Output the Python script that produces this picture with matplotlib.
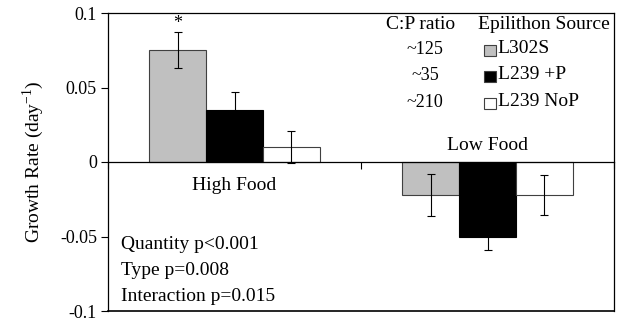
import matplotlib
matplotlib.use("Agg")
import matplotlib.pyplot as plt
from matplotlib.patches import Rectangle
import numpy as np

# data
food = ["High Food", "Low Food"]
sources = ["L302S", "L239 +P", "L239 NoP"]
cp_ratio = ["~125", "~35", "~210"]
rates = {
    "L302S":    [0.075, -0.022],
    "L239 +P":  [0.035, -0.050],
    "L239 NoP": [0.010, -0.022],
}
errs = {
    "L302S":    [0.012, 0.014],
    "L239 +P":  [0.012, 0.009],
    "L239 NoP": [0.011, 0.0135],
}
stats = ["Quantity p<0.001", "Type p=0.008", "Interaction p=0.015"]

colors = ["#c0c0c0", "#000000", "#ffffff"]
edges = ["#404040", "#000000", "#404040"]

plt.rcParams["font.family"] = ["Liberation Serif", "DejaVu Serif"]
plt.rcParams["mathtext.fontset"] = "custom"
plt.rcParams["mathtext.rm"] = "Liberation Serif"
FS = 14

fig = plt.figure(figsize=(6.21, 3.2), dpi=100)
ax = fig.add_axes([108 / 621, 9 / 320, 506 / 621, 298 / 320])

x = np.arange(len(food))
w = 0.225
for i, s in enumerate(sources):
    xs = x + (i - 1) * w
    ax.bar(xs, rates[s], width=w, color=colors[i], edgecolor=edges[i],
           linewidth=0.8, zorder=2)
    ax.errorbar(xs, rates[s], yerr=errs[s], fmt="none", ecolor="black",
                elinewidth=0.8, capsize=3, capthick=0.8, zorder=3)

# significance star over L302S high food
ax.text(x[0] - w, rates["L302S"][0] + errs["L302S"][0], "*",
        ha="center", va="bottom", fontsize=FS - 1)

ax.set_xlim(-0.5, 1.5)
ax.set_ylim(-0.1, 0.1)
ax.set_yticks([-0.1, -0.05, 0, 0.05, 0.1])
ax.set_yticklabels(["-0.1", "-0.05", "0", "0.05", "0.1"], fontsize=FS - 1)
ax.tick_params(axis="y", direction="out", length=5, width=0.8, pad=3)

# x axis sits at zero, ticks between categories
ax.spines["bottom"].set_position(("data", 0))
ax.set_xticks([-0.5, 0.5, 1.5])
ax.set_xticklabels([])
ax.tick_params(axis="x", direction="out", length=5, width=0.8)
for sp in ax.spines.values():
    sp.set_linewidth(0.9)
ax.axhline(-0.1, color="black", lw=1.2, clip_on=False)

ax.text(x[0], -0.016, food[0], ha="center", va="center", fontsize=FS)
ax.text(x[1], 0.011, food[1], ha="center", va="center", fontsize=FS)

ax.set_ylabel("Growth Rate (day$^{\\mathregular{-1}}$)", fontsize=FS,
              labelpad=10)

# hand-made legend
ax.text(0.617, 0.963, "C:P ratio", transform=ax.transAxes,
        ha="center", va="center", fontsize=FS)
ax.text(0.862, 0.963, "Epilithon Source", transform=ax.transAxes,
        ha="center", va="center", fontsize=FS)
rows_y = [0.876, 0.789, 0.699]
for i, s in enumerate(sources):
    ax.text(0.627, rows_y[i], cp_ratio[i], transform=ax.transAxes,
            ha="center", va="center", fontsize=FS - 1)
    ax.add_patch(Rectangle((0.744, rows_y[i] - 0.02), 0.022, 0.037,
                           transform=ax.transAxes, facecolor=colors[i],
                           edgecolor="#404040", linewidth=0.8))
    ax.text(0.770, rows_y[i] + 0.004, s, transform=ax.transAxes,
            ha="left", va="center", fontsize=FS)

for i, t in enumerate(stats):
    ax.text(0.026, [0.224, 0.137, 0.050][i], t, transform=ax.transAxes,
            ha="left", va="center", fontsize=FS)

fig.savefig("out.png", dpi=100)
